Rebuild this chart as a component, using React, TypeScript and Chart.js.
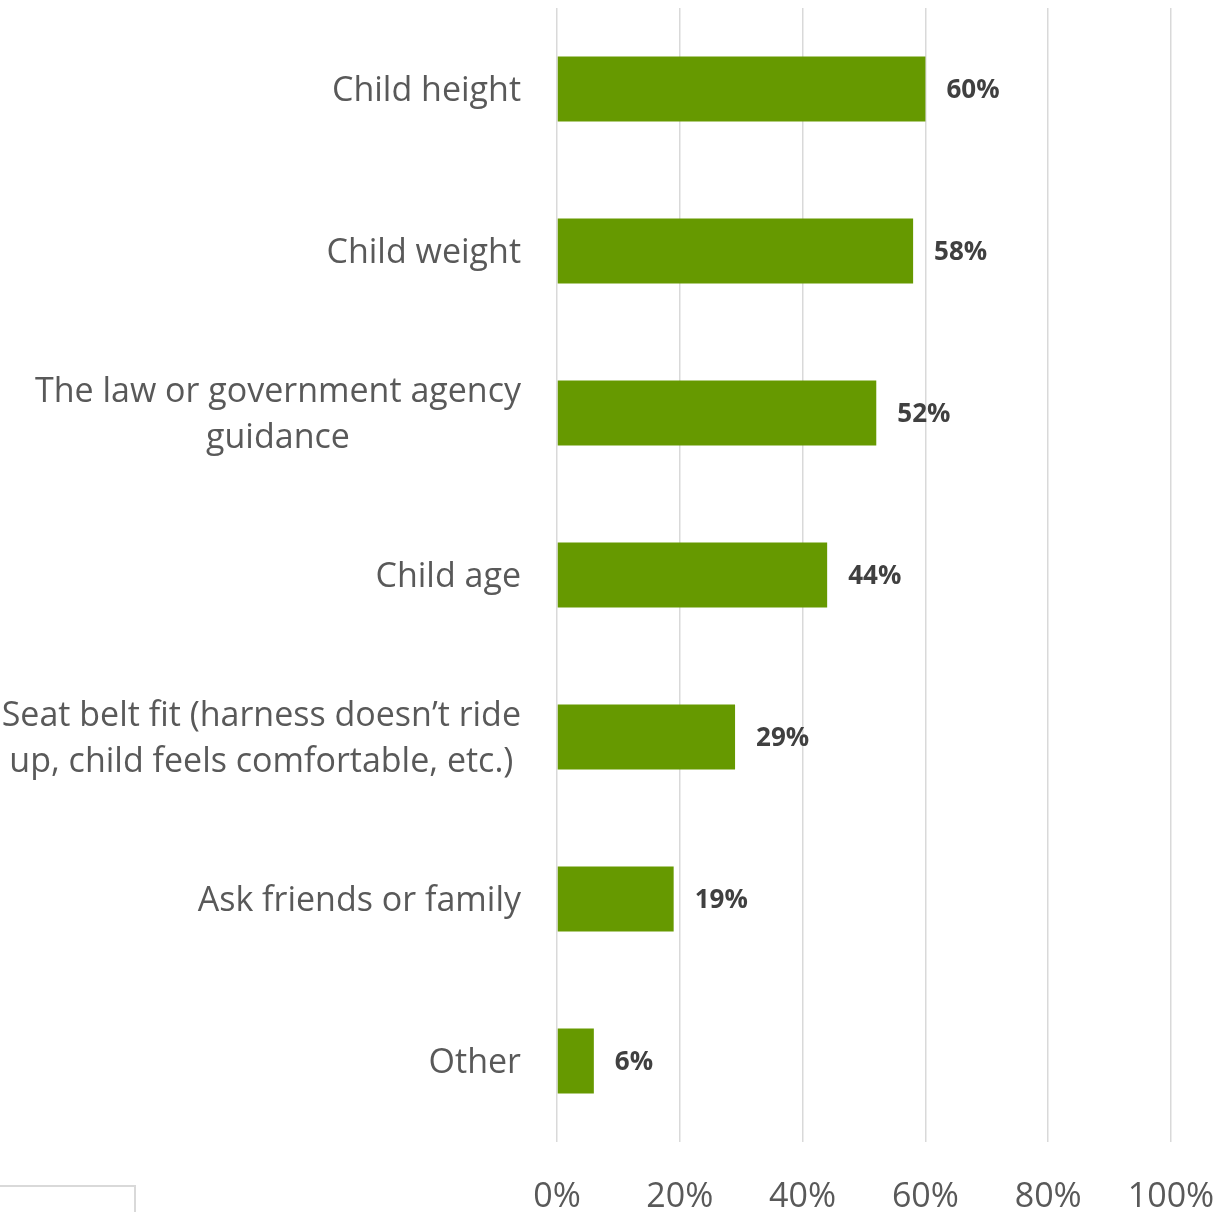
import React, { useEffect, useRef } from "react";
import { Chart, registerables } from "chart.js";

Chart.register(...registerables);

const categories: (string | string[])[] = [
  "Child height",
  "Child weight",
  ["The law or government agency", "guidance"],
  "Child age",
  ["Seat belt fit (harness doesn\u2019t ride", "up, child feels comfortable, etc.)"],
  "Ask friends or family",
  "Other",
];

const shares: number[] = [60, 58, 52, 44, 29, 19, 6];

const xTicks: number[] = [0, 20, 40, 60, 80, 100];

const FONT = "'Open Sans', 'Noto Sans', sans-serif";
const BAR_COLOR = "#669900";
const TEXT_GREY = "#595959";
const GRID_GREY = "#d9d9d9";

const CAT_FONT_SIZE = 34;
const CAT_LINE_GAP = 46;
const CAT_GAP_TO_AXIS = 36;

// Writes each bar's percentage just past its end.
const valueLabels = {
  id: "valueLabels",
  afterDatasetsDraw(chart: Chart) {
    const { ctx } = chart;
    const meta = chart.getDatasetMeta(0);
    const data = chart.data.datasets[0].data as number[];
    ctx.save();
    ctx.font = `bold 26px ${FONT}`;
    ctx.fillStyle = "#404040";
    ctx.textAlign = "left";
    ctx.textBaseline = "middle";
    meta.data.forEach((bar: any, i: number) => {
      ctx.fillText(`${data[i]}%`, bar.x + 21, bar.y + 2);
    });
    ctx.restore();
  },
};

// Category names: each block sits right of centre against the axis,
// and the lines of a wrapped name are centred on one another.
const categoryLabels = {
  id: "categoryLabels",
  afterDraw(chart: Chart) {
    const { ctx } = chart;
    const yScale: any = chart.scales.y;
    const right = chart.chartArea.left - CAT_GAP_TO_AXIS;
    ctx.save();
    ctx.font = `${CAT_FONT_SIZE}px ${FONT}`;
    ctx.fillStyle = TEXT_GREY;
    ctx.textAlign = "center";
    ctx.textBaseline = "middle";
    (chart.data.labels as (string | string[])[]).forEach((label, i) => {
      const lines = Array.isArray(label) ? label : [label];
      const widest = Math.max(...lines.map((l) => ctx.measureText(l).width));
      const cx = right - widest / 2;
      const cy = yScale.getPixelForTick(i) + 2;
      const top = cy - ((lines.length - 1) * CAT_LINE_GAP) / 2;
      lines.forEach((line, k) => {
        ctx.fillText(line, cx, top + k * CAT_LINE_GAP);
      });
    });
    ctx.restore();
  },
};

export default function App() {
  const canvasRef = useRef<HTMLCanvasElement | null>(null);

  useEffect(() => {
    if (!canvasRef.current) return;
    const chart = new Chart(canvasRef.current, {
      type: "bar",
      data: {
        labels: categories,
        datasets: [
          {
            data: shares,
            backgroundColor: BAR_COLOR,
            borderWidth: 0,
            categoryPercentage: 0.4,
            barPercentage: 1,
          },
        ],
      },
      options: {
        indexAxis: "y",
        animation: false,
        responsive: false,
        maintainAspectRatio: false,
        layout: { padding: { top: 8, right: 51, bottom: 0, left: 0 } },
        plugins: {
          legend: { display: false },
          tooltip: { enabled: false },
        },
        scales: {
          x: {
            min: 0,
            max: 100,
            afterBuildTicks: (scale: any) => {
              scale.ticks = xTicks.map((v) => ({ value: v }));
            },
            afterFit: (scale: any) => {
              scale.height = 70;
              scale.paddingLeft = 0;
              scale.paddingRight = 0;
            },
            grid: {
              color: GRID_GREY,
              lineWidth: 1.5,
              drawTicks: false,
            },
            border: { display: false },
            ticks: {
              padding: 35,
              color: TEXT_GREY,
              font: { family: FONT, size: 34 },
              callback: (v: any) => `${v}%`,
            },
          },
          y: {
            afterFit: (scale: any) => {
              scale.width = 557;
              scale.paddingTop = 0;
              scale.paddingBottom = 0;
            },
            grid: { display: false, drawTicks: false },
            border: { display: false },
            ticks: { display: false },
          },
        },
      },
      plugins: [valueLabels, categoryLabels],
    });
    return () => chart.destroy();
  }, []);

  return (
    <div
      style={{
        position: "fixed",
        left: 0,
        top: 0,
        width: 1222,
        height: 1212,
        background: "#ffffff",
        overflow: "hidden",
      }}
    >
      <canvas ref={canvasRef} width={1222} height={1212} style={{ display: "block" }} />
      <div
        style={{
          position: "absolute",
          left: -2,
          top: 1185,
          width: 136,
          height: 40,
          borderTop: `2px solid ${GRID_GREY}`,
          borderRight: `2px solid ${GRID_GREY}`,
        }}
      />
    </div>
  );
}
